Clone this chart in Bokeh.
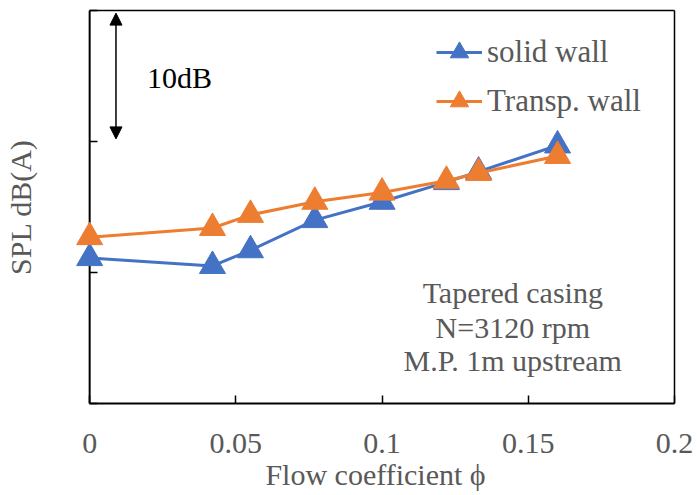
from bokeh.plotting import figure
from bokeh.models import (Range1d, FixedTicker, Legend, Label, Arrow, NormalHead,
                          LinearAxis, Span)
from bokeh.embed import file_html
from bokeh.resources import INLINE

# ---- data ----
phi_solid = [0, 0.042, 0.055, 0.077, 0.1, 0.122, 0.133, 0.16]
spl_solid = [71.1, 70.5, 71.7, 74.0, 75.4, 76.9, 77.7, 79.7]
phi_transp = [0, 0.042, 0.055, 0.077, 0.1, 0.122, 0.133, 0.16]
spl_transp = [72.7, 73.4, 74.4, 75.4, 76.1, 77.0, 77.6, 78.9]
series_names = ["solid wall", "Transp. wall"]
x_ticks = [0, 0.05, 0.1, 0.15, 0.2]
x_tick_labels = ["0", "0.05", "0.1", "0.15", "0.2"]
y_ticks = [60, 70, 80, 90]
note_lines = ["Tapered casing", "N=3120 rpm", "M.P. 1m upstream"]
scale_text = "10dB"

FONT = "Liberation Serif"
GREY = "#595959"
BLUE = "#4472C4"
ORANGE = "#ED7D31"

X0, X1 = 0, 0.2
Y0, Y1 = 60, 90
LEFT_PAD = 0.0045   # room so the first markers are not clipped
PAD_PX = 13         # the same room in pixels

p = figure(width=697, height=495, output_backend="svg", toolbar_location=None,
           x_range=Range1d(X0 - LEFT_PAD, X1), y_range=Range1d(Y0, Y1),
           min_border_left=76, min_border_right=23, min_border_top=10, min_border_bottom=92)
p.xgrid.visible = False
p.ygrid.visible = False
p.outline_line_color = None

# x axis
xa = p.xaxis[0]
xa.ticker = FixedTicker(ticks=x_ticks)
xa.bounds = (X0, X1)
xa.major_label_overrides = {t: s for t, s in zip(x_ticks, x_tick_labels)}
xa.axis_line_color = "black"
xa.axis_line_width = 2
xa.major_tick_line_color = "black"
xa.major_tick_line_width = 1.5
xa.major_tick_in = 8
xa.major_tick_out = 0
xa.minor_tick_line_color = None
xa.major_label_text_font = FONT
xa.major_label_text_font_size = "30px"
xa.major_label_text_color = GREY
xa.axis_label = "Flow coefficient \u03d5"
xa.axis_label_text_font = FONT
xa.axis_label_text_font_size = "30px"
xa.axis_label_text_color = GREY
xa.axis_label_text_font_style = "normal"
xa.major_label_standoff = 30
xa.axis_label_standoff = 2

# y axis: ticks shifted onto x = 0, line drawn by a span
ya = p.yaxis[0]
ya.ticker = FixedTicker(ticks=y_ticks)
ya.major_label_overrides = {t: "" for t in y_ticks}
ya.axis_line_color = None
ya.major_tick_line_color = "black"
ya.major_tick_line_width = 1.5
ya.major_tick_in = PAD_PX + 8
ya.major_tick_out = -PAD_PX
ya.minor_tick_line_color = None
ya.major_label_standoff = 0
ya.axis_label = "SPL dB(A)"
ya.axis_label_text_font = FONT
ya.axis_label_text_font_size = "30px"
ya.axis_label_text_color = GREY
ya.axis_label_text_font_style = "normal"
ya.axis_label_standoff = 40
p.add_layout(Span(location=X0, dimension="height", line_color="black", line_width=2))

# box lines on top and right
top_ax = LinearAxis(ticker=FixedTicker(ticks=[]), bounds=(X0, X1),
                    axis_line_color="black", axis_line_width=1.5,
                    major_tick_line_color=None, minor_tick_line_color=None,
                    major_label_standoff=0, axis_label_standoff=0)
right_ax = LinearAxis(ticker=FixedTicker(ticks=[]),
                      axis_line_color="black", axis_line_width=1.5,
                      major_tick_line_color=None, minor_tick_line_color=None,
                      major_label_standoff=0, axis_label_standoff=0)
p.add_layout(top_ax, "above")
p.add_layout(right_ax, "right")

# series
l1 = p.line(phi_solid, spl_solid, line_color=BLUE, line_width=3, level="overlay")
s1 = p.scatter(phi_solid, spl_solid, marker="triangle", size=26,
               fill_color=BLUE, line_color=BLUE, level="overlay")
l2 = p.line(phi_transp, spl_transp, line_color=ORANGE, line_width=3, level="overlay")
s2 = p.scatter(phi_transp, spl_transp, marker="triangle", size=26,
               fill_color=ORANGE, line_color=ORANGE, level="overlay")

legend = Legend(items=[(series_names[0], [l1, s1]), (series_names[1], [l2, s2])],
                location="top_right", margin=13, padding=5, spacing=1,
                glyph_width=46, glyph_height=48, label_standoff=5, label_width=169,
                label_text_font=FONT, label_text_font_size="31px",
                label_text_color=GREY, background_fill_alpha=0,
                border_line_alpha=0)
p.add_layout(legend)

# annotations (text centres)
note_x = 0.1447
note_y = [68.45, 65.8, 63.28]
for line_text, ly in zip(note_lines, note_y):
    p.add_layout(Label(x=note_x, y=ly, text=line_text, text_font=FONT,
                       text_font_size="30px", text_color=GREY, text_align="center",
                       text_baseline="middle"))
p.add_layout(Label(x=0.0196, y=84.9, text=scale_text, text_font=FONT,
                   text_font_size="30px", text_color="black", text_align="left",
                   text_baseline="middle"))
p.add_layout(Arrow(x_start=0.009, y_start=80.2, x_end=0.009, y_end=89.8,
                   line_color="black", line_width=1.5,
                   start=NormalHead(size=12, fill_color="black", line_color="black"),
                   end=NormalHead(size=12, fill_color="black", line_color="black")))

open("out.html", "w").write(file_html(p, INLINE))
